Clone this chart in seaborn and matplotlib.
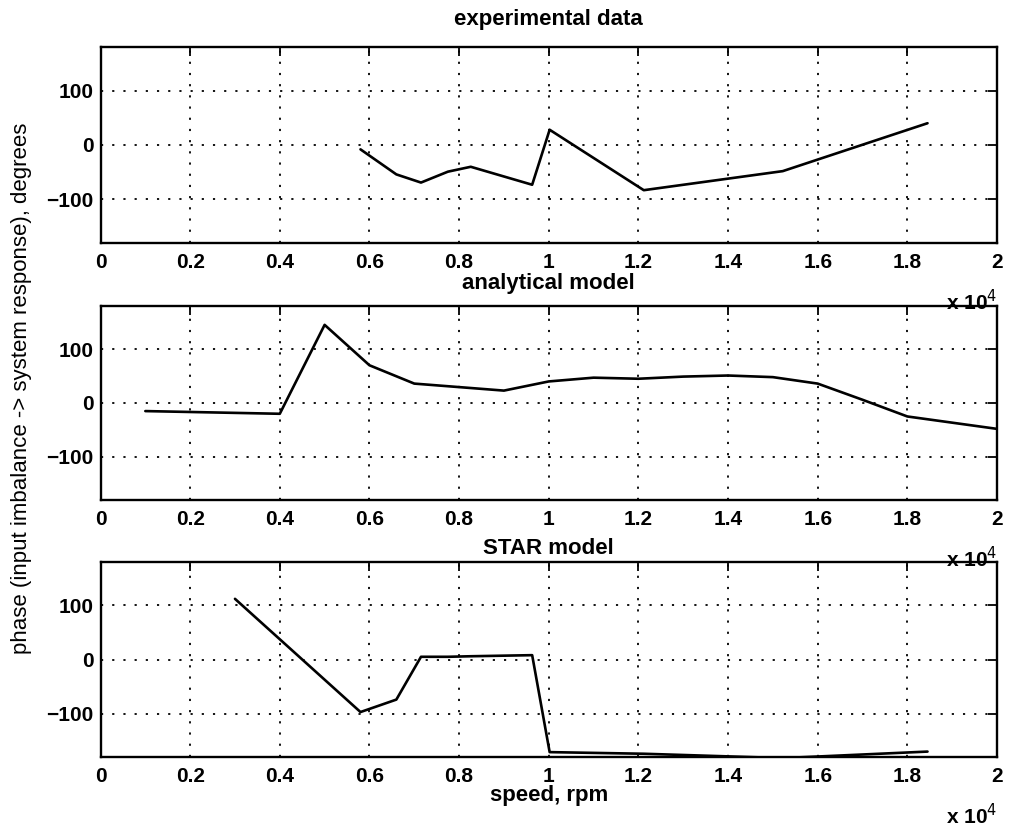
import matplotlib
matplotlib.use("Agg")
import matplotlib.pyplot as plt
import pandas as pd
import seaborn as sns
from matplotlib.ticker import FuncFormatter, FixedLocator

# measured phase, rpm vs degrees
exp_speed = [5800, 6600, 7150, 7750, 8260, 9630, 10020, 12120, 15220, 18450]
exp_phase = [-8, -54, -69, -49, -40, -73, 28, -83, -48, 40]

# analytical model prediction
ana_speed = [1000, 4000, 5000, 6000, 7000, 9000, 10000, 11000, 12000, 13000,
             14000, 15000, 16000, 17000, 18000, 20000]
ana_phase = [-15, -20, 145, 70, 36, 23, 40, 47, 45, 49, 51, 48, 36, 6, -25, -48]

# STAR model prediction
star_speed = [3000, 5800, 6600, 7150, 7750, 8260, 9630, 10020, 12120, 15220, 18450]
star_phase = [112, -97, -74, 5, 5, 6, 8, -171, -174, -182, -170]

titles = ["experimental data", "analytical model", "STAR model"]
x_ticks = [0, 2000, 4000, 6000, 8000, 10000, 12000, 14000, 16000, 18000, 20000]
y_ticks = [-100, 0, 100]

sns.set_style("white")
plt.rcParams["font.family"] = ["Liberation Sans", "DejaVu Sans"]
plt.rcParams["font.size"] = 15
plt.rcParams["text.color"] = "black"

W_PX, H_PX = 1011, 832
fig = plt.figure(figsize=(W_PX / 100, H_PX / 100), dpi=100)

left_px, right_px = 100.5, 997
# (top, bottom) pixel rows of each panel
rows = [(47, 243), (306, 500), (562, 757)]
title_y = [19, 283, 548]

series = [(exp_speed, exp_phase), (ana_speed, ana_phase), (star_speed, star_phase)]

for i, ((top, bot), (sx, sy), title) in enumerate(zip(rows, series, titles)):
    box = (left_px / W_PX, 1 - bot / H_PX, (right_px - left_px) / W_PX, (bot - top) / H_PX)
    ax = fig.add_axes(box)
    df = pd.DataFrame({"speed": sx, "phase": sy})
    sns.lineplot(data=df, x="speed", y="phase", ax=ax, color="black",
                 linewidth=1.9, sort=False, estimator=None)
    ax.set_xlim(0, 20000)
    ax.set_ylim(-180, 180)
    ax.xaxis.set_major_locator(FixedLocator(x_ticks))
    ax.yaxis.set_major_locator(FixedLocator(y_ticks))
    ax.xaxis.set_major_formatter(FuncFormatter(lambda v, p: f"{v / 1e4:g}"))
    ax.yaxis.set_major_formatter(FuncFormatter(lambda v, p: f"{v:g}".replace("-", "\u2212")))
    ax.grid(True, color="black", linestyle=(0, (1.2, 5)), linewidth=1.3)
    ax.tick_params(direction="in", length=6.5, width=1.3, top=True, right=True,
                   labelsize=15, colors="black")
    ax.tick_params(axis="x", pad=7)
    ax.tick_params(axis="y", pad=5)
    for lab in ax.get_xticklabels() + ax.get_yticklabels():
        lab.set_fontweight("bold")
    for s in ax.spines.values():
        s.set_visible(True)
        s.set_color("black")
        s.set_linewidth(1.7)
    ax.set_xlabel("")
    ax.set_ylabel("")
    # titles and the x-axis scale factor are figure texts so they sit on top
    # of the neighbouring panel
    fig.text((left_px + right_px) / 2 / W_PX, 1 - title_y[i] / H_PX, title,
             ha="center", va="center", fontsize=16, fontweight="bold",
             color="black", zorder=5)
    fig.text(right_px / W_PX, 1 - (bot + 59) / H_PX, r"x 10$^4$",
             ha="right", va="center", fontsize=15, fontweight="bold",
             color="black", zorder=5)
    if i == 2:
        fig.text((left_px + right_px) / 2 / W_PX, 1 - (bot + 38) / H_PX, "speed, rpm",
                 ha="center", va="center", fontsize=16, fontweight="bold",
                 color="black", zorder=5)

fig.text(22 / W_PX, 1 - 388 / H_PX, "phase (input imbalance -> system response), degrees",
         rotation=90, ha="center", va="center", fontsize=16, color="black")

fig.savefig("out.png", dpi=100)
